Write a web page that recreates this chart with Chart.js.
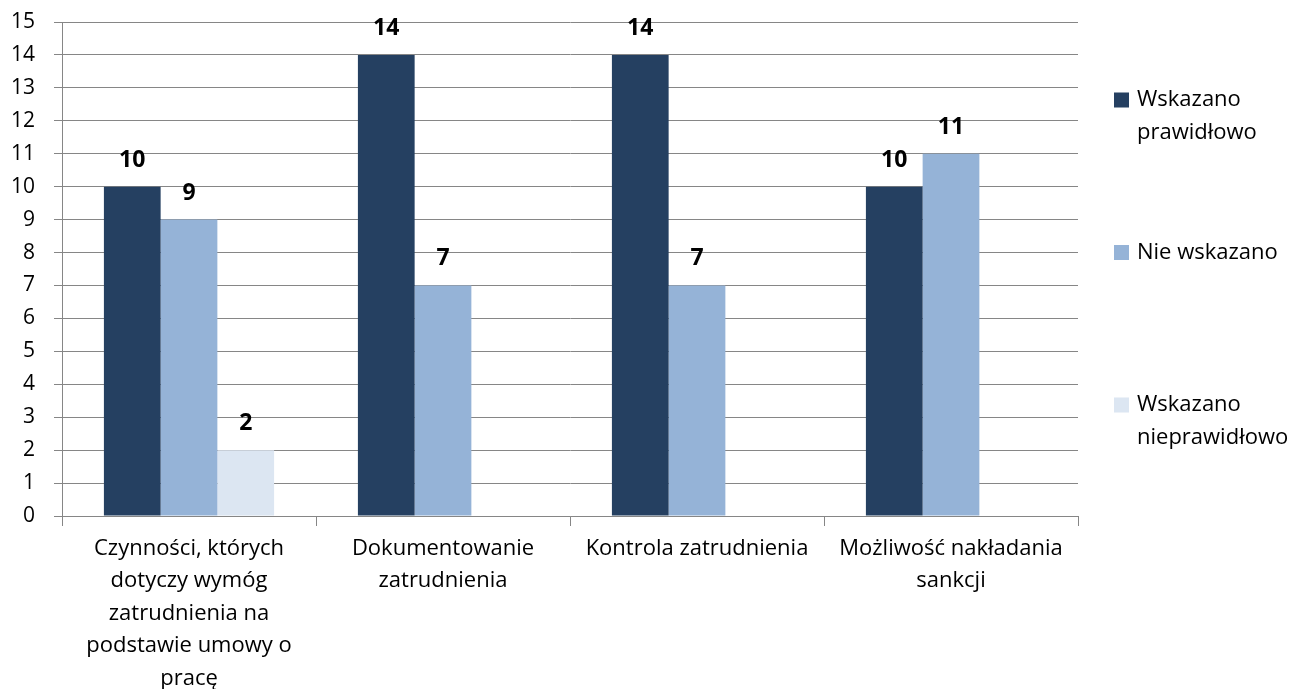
<!DOCTYPE html>
<html>
<head>
<meta charset="utf-8">
<script src="https://cdn.jsdelivr.net/npm/chart.js@4"></script>
<style>
  html, body { margin: 0; padding: 0; background: #fff; }
  #wrap { width: 1301px; height: 689px; position: relative; }
</style>
</head>
<body>
<div id="wrap"><canvas id="chart"></canvas></div>
<script>
/* =========================
   DATA
========================= */
const categories = [
  ["Czynności, których", "dotyczy wymóg", "zatrudnienia na", "podstawie umowy o", "pracę"],
  ["Dokumentowanie", "zatrudnienia"],
  ["Kontrola zatrudnienia"],
  ["Możliwość nakładania", "sankcji"]
];
const seriesNames = ["Wskazano prawidłowo", "Nie wskazano", "Wskazano nieprawidłowo"];
const legendLines = [["Wskazano", "prawidłowo"], ["Nie wskazano"], ["Wskazano", "nieprawidłowo"]];
const wskazanoPrawidlowo = [10, 14, 14, 10];
const nieWskazano = [9, 7, 7, 11];
const wskazanoNieprawidlowo = [2, null, null, null];
const yMin = 0, yMax = 15, yStep = 1;

const colors = ["#254061", "#95B3D7", "#DCE6F2"];
const FONT = "'Open Sans', sans-serif";

/* =========================
   PLUGINS
========================= */
const valueLabels = {
  id: "valueLabels",
  afterDatasetsDraw(chart) {
    const ctx = chart.ctx;
    ctx.save();
    ctx.font = "bold 23px " + FONT;
    ctx.fillStyle = "#000";
    ctx.textAlign = "center";
    ctx.textBaseline = "alphabetic";
    chart.data.datasets.forEach((ds, i) => {
      chart.getDatasetMeta(i).data.forEach((bar, j) => {
        if (ds.data[j] == null) return;
        ctx.fillText(ds.data[j], bar.x, bar.y - 20);
      });
    });
    ctx.restore();
  }
};

// legend drawn by hand: Excel spreads the items down the right side
const sideLegend = {
  id: "sideLegend",
  afterDraw(chart) {
    const ctx = chart.ctx;
    const area = chart.chartArea;
    const x = area.right + 36;
    ctx.save();
    ctx.font = "22px " + FONT;
    ctx.textBaseline = "middle";
    ctx.textAlign = "left";
    legendLines.forEach((lines, i) => {
      const cy = area.top + 78 + i * 152.5;
      ctx.fillStyle = colors[i];
      ctx.fillRect(x, cy - 7.5, 15, 15);
      ctx.fillStyle = "#000";
      lines.forEach((t, k) => ctx.fillText(t, x + 23, cy + k * 33));
    });
    ctx.restore();
  }
};

/* =========================
   CHART
========================= */
const datasets = [wskazanoPrawidlowo, nieWskazano, wskazanoNieprawidlowo].map((d, i) => ({
  label: seriesNames[i],
  data: d,
  backgroundColor: colors[i],
  borderWidth: 0,
  categoryPercentage: 0.67,
  barPercentage: 1
}));

new Chart(document.getElementById("chart"), {
  type: "bar",
  data: { labels: categories, datasets },
  options: {
    responsive: true,
    maintainAspectRatio: false,
    animation: false,
    layout: { padding: { top: 22, right: 223, left: 0, bottom: 0 } },
    plugins: {
      legend: { display: false },
      tooltip: { enabled: false }
    },
    scales: {
      x: {
        offset: true,
        grid: {
          offset: true,
          drawOnChartArea: false,
          color: "#868686",
          tickLength: 10
        },
        border: { color: "#868686", width: 1 },
        ticks: {
          color: "#000",
          font: { family: FONT, size: 22, lineHeight: 1.48 },
          maxRotation: 0,
          autoSkip: false,
          padding: 6
        },
        afterFit(scale) {
          scale.height = 173;
          scale.paddingLeft = 0;
          scale.paddingRight = 0;
        }
      },
      y: {
        min: yMin,
        max: yMax,
        grid: { color: "#868686", tickLength: 8 },
        border: { color: "#868686", width: 1 },
        ticks: {
          stepSize: yStep,
          color: "#000",
          font: { family: FONT, size: 21 },
          padding: 19
        },
        afterFit(scale) {
          scale.width = 62;
          scale.paddingTop = 0;
          scale.paddingBottom = 0;
        }
      }
    }
  },
  plugins: [valueLabels, sideLegend]
});
</script>
</body>
</html>
